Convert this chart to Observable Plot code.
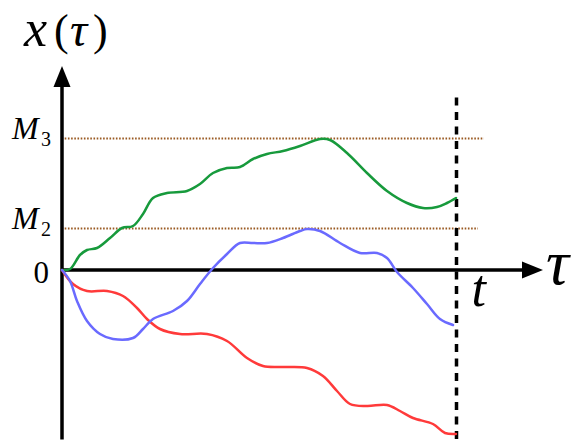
<!DOCTYPE html>
<html><head><meta charset="utf-8">
<script src="https://cdn.jsdelivr.net/npm/d3@7"></script>
<script src="https://cdn.jsdelivr.net/npm/@observablehq/plot@0.6"></script>
<style>body{margin:0;background:#fff}#chart svg{display:block}</style>
</head><body><div id="chart"></div>
<script>
// Path values (τ, x(τ)) in arbitrary units
const tauGreen = [0,8,18,25,35,48,60,71,81,91,105,125,138,151,165,178,191,205,221,238,258,268,285,305,325,345,361,375,385,394];
const xGreen   = [0,1,15,20,22,32,42,44,56,72,77,79,86,97,102,103,111,116,119,124,131,130,117,97,79,67,62,63,67,72];
const tauBlue  = [0,8,15,25,38,51,71,81,91,111,125,138,151,165,178,191,205,221,238,245,258,278,298,315,325,335,351,365,378,391];
const xBlue    = [0,-11,-31,-51,-64,-69,-68,-59,-49,-41,-31,-14,2,16,27,27,27,32,39,41,39,27,17,17,12,-2,-18,-34,-49,-55];
const tauRed   = [0,11,25,45,61,75,85,98,118,145,165,185,201,221,245,261,275,288,305,325,338,351,371,383,394];
const xRed     = [0,-14,-21,-21,-26,-38,-49,-59,-64,-64,-71,-88,-96,-97,-98,-106,-121,-134,-136,-135,-141,-148,-154,-163,-164];
const levelValues = [131.5, 41.5];      // M3, M2
const levelSubs   = ["3", "2"];
const tEnd = 394.5;                      // t
const axisTop = 204, axisBottom = -170, axisRight = 481;

const toRows = (ts, xs) => ts.map((t, i) => ({tau: t, x: xs[i]}));
const green = toRows(tauGreen, xGreen);
const blue  = toRows(tauBlue, xBlue);
const red   = toRows(tauRed, xRed);
const levels = levelValues.map((v, i) => ({value: v, sub: levelSubs[i]}));

const arrowHead = {draw(ctx) { ctx.moveTo(0, -21); ctx.lineTo(8.5, 0); ctx.lineTo(-8.5, 0); ctx.closePath(); }};
const serif = "'Liberation Serif', 'DejaVu Serif', serif";

const chart = Plot.plot({
  width: 579, height: 445,
  marginTop: 0, marginRight: 0, marginBottom: 0, marginLeft: 0,
  x: {domain: [-61.5, 517.5], axis: null},
  y: {domain: [-175.5, 269.5], axis: null},
  marks: [
    // dotted levels
    Plot.ruleY(levels, {y: "value", x1: 0, x2: (d, i) => i === 0 ? 422.5 : 416.5, stroke: "#9a5a22", strokeWidth: 2, strokeDasharray: "1.6,1.6"}),
    // axes
    Plot.ruleX([0], {y1: axisBottom, y2: axisTop - 20, stroke: "black", strokeWidth: 3.5}),
    Plot.ruleY([0], {x1: 0, x2: axisRight - 20, stroke: "black", strokeWidth: 3.5}),
    Plot.dot([0], {x: 0, y: axisTop - 21, symbol: arrowHead, r: 5, fill: "black", stroke: "none"}),
    Plot.dot([0], {x: axisRight - 21, y: 0, symbol: arrowHead, r: 5, rotate: 90, fill: "black", stroke: "none"}),
    // dashed t line
    Plot.ruleX([tEnd], {y1: 172, y2: -176, stroke: "black", strokeWidth: 3.5, strokeDasharray: "8,6.5"}),
    // paths
    Plot.line(green, {x: "tau", y: "x", stroke: "#179a3c", strokeWidth: 2.5, curve: "catmull-rom"}),
    Plot.line(red,   {x: "tau", y: "x", stroke: "#ff3a3a", strokeWidth: 2.5, curve: "catmull-rom"}),
    Plot.line(blue,  {x: "tau", y: "x", stroke: "#6a6aff", strokeWidth: 2.5, curve: "catmull-rom"}),
    // labels
    Plot.text(levels, {x: 0, y: "value", text: () => "M", dx: -50, dy: 0, textAnchor: "start", lineAnchor: "bottom", fontFamily: serif, fontStyle: "italic", fontSize: 32, fill: "black"}),
    Plot.text(levels, {x: 0, y: "value", text: "sub", dx: -21, dy: 7, textAnchor: "start", lineAnchor: "bottom", fontFamily: serif, fontSize: 20, fill: "black"}),
    Plot.text([0], {x: 0, y: 0, text: () => "0", dx: -13, dy: 13, textAnchor: "end", lineAnchor: "bottom", fontFamily: serif, fontSize: 31, fill: "black"}),
    Plot.text([tEnd], {x: d => d, y: 0, text: () => "t", dx: 15, dy: 36, textAnchor: "start", lineAnchor: "bottom", fontFamily: serif, fontStyle: "italic", fontSize: 52, fill: "black"}),
    Plot.text([axisRight], {x: d => d, y: 0, text: () => "τ", dx: 3, dy: 14, textAnchor: "start", lineAnchor: "bottom", fontFamily: serif, fontStyle: "italic", fontSize: 64, fill: "black"}),
    Plot.text([0], {x: 0, y: axisTop, text: () => "x", dx: -38, dy: -20, textAnchor: "start", lineAnchor: "bottom", fontFamily: serif, fontStyle: "italic", fontSize: 52, fill: "black"}),
    Plot.text([0], {x: 0, y: axisTop, text: () => "(", dx: -8, dy: -21, textAnchor: "start", lineAnchor: "bottom", fontFamily: serif, fontSize: 44, fill: "black"}),
    Plot.text([0], {x: 0, y: axisTop, text: () => "τ", dx: 8, dy: -20, textAnchor: "start", lineAnchor: "bottom", fontFamily: serif, fontStyle: "italic", fontSize: 48, fill: "black"}),
    Plot.text([0], {x: 0, y: axisTop, text: () => ")", dx: 31, dy: -21, textAnchor: "start", lineAnchor: "bottom", fontFamily: serif, fontSize: 44, fill: "black"})
  ]
});
document.getElementById("chart").append(chart);
</script>
</body></html>
